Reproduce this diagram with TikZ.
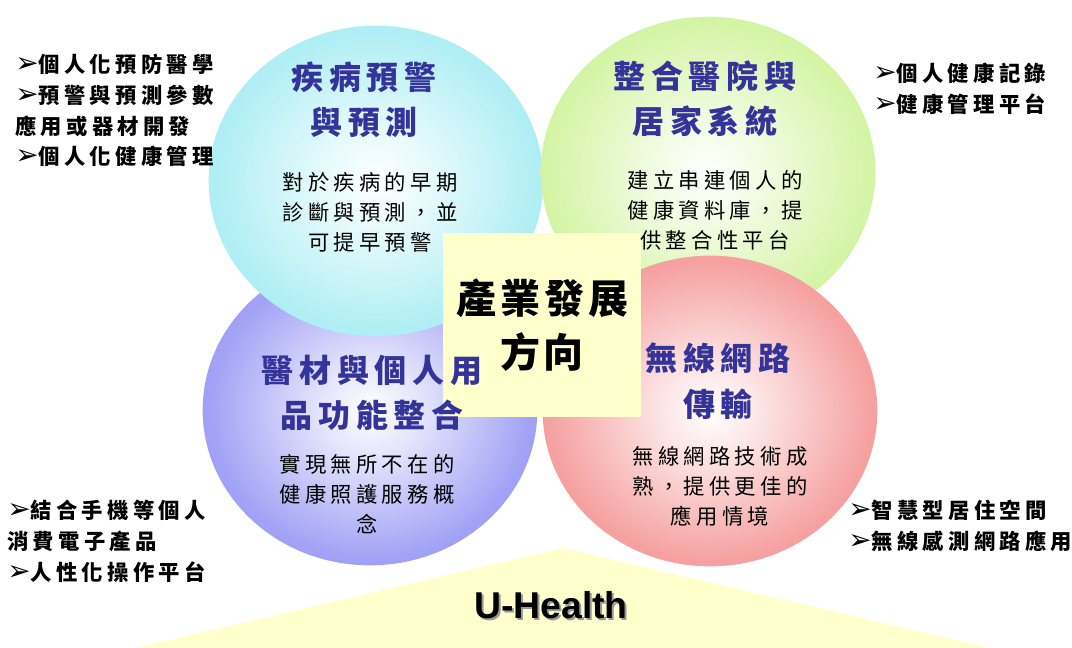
\documentclass[tikz,border=0pt]{standalone}
\usepackage{fontspec}
\setmainfont{Liberation Sans}
\newfontfamily\cjktitle[LetterSpace=18]{Noto Sans CJK TC}
\newfontfamily\cjkbody[LetterSpace=20]{Noto Sans CJK TC}
\newfontfamily\cjkcentre[LetterSpace=10]{Noto Sans CJK TC}
\newfontfamily\cjklist[LetterSpace=20]{Noto Sans CJK TC}
\newfontfamily\dingfont{DejaVu Sans}
\usetikzlibrary{shapes.geometric}

\definecolor{cyanedge}{RGB}{145,232,240}
\definecolor{greenedge}{RGB}{196,240,132}
\definecolor{blueedge}{RGB}{125,125,242}
\definecolor{rededge}{RGB}{242,125,125}
\definecolor{titleblue}{RGB}{51,51,153}
\definecolor{paleyellow}{RGB}{255,255,204}

\colorlet{bubbleedge}{white}
\pgfdeclareradialshading[bubbleedge]{bubbleshade}{\pgfpoint{0bp}{0bp}}{color(0bp)=(white); color(8bp)=(bubbleedge!22!white); color(24bp)=(bubbleedge!72!white); color(40bp)=(bubbleedge!92!white); color(50bp)=(bubbleedge); color(100bp)=(bubbleedge)}

\newcommand{\listarrow}{{\mdseries\dingfont\fontsize{21}{23}\selectfont ➢}}

\begin{document}
\begin{tikzpicture}[x=0.75pt,y=0.75pt,yscale=-1,xscale=1,
  bubble/.style={ellipse, draw=none, inner sep=0pt, minimum width=251pt, minimum height=233pt, shading=bubbleshade},
  bubble color/.code={\colorlet{bubbleedge}{#1}},
  bubbletitle/.style={font=\cjktitle\bfseries\fontsize{24}{34}\selectfont, text=titleblue, align=center, inner sep=0pt},
  bubbletext/.style={font=\cjkbody\fontsize{16}{22.5}\selectfont, align=center, inner sep=0pt},
  listtext/.style={font=\cjklist\bfseries\fontsize{16}{23}\selectfont, align=left, anchor=north west, inner sep=0pt}]
\useasboundingbox (0,0) rectangle (1072,648);

%Shape: Triangle
\fill [paleyellow] (563,548) -- (990,648) -- (135,648) -- cycle ;

%Shape: Ellipse
\draw (370,410) node (medbubble) [bubble, bubble color=blueedge] {};
%Shape: Ellipse
\draw (376,181) node (warnbubble) [bubble, bubble color=cyanedge] {};
%Shape: Ellipse
\draw (708,172) node (homebubble) [bubble, bubble color=greenedge] {};
%Shape: Ellipse
\draw (710,411) node (netbubble) [bubble, bubble color=rededge] {};

%Shape: Square
\draw (542,325) node (centrebox) [rectangle, fill=paleyellow, minimum width=148.5pt, minimum height=138pt, inner sep=0pt, font=\cjkcentre\bfseries\fontsize{30}{41}\selectfont, align=center] {產業發展\\方向};

% Text Node
\draw (364,100) node (warntitle) [bubbletitle] {疾病預警\\與預測};
% Text Node
\draw (370,212) node (warntext) [bubbletext] {對於疾病的早期\\診斷與預測，並\\可提早預警};
% Text Node
\draw (705,99) node (hometitle) [bubbletitle] {整合醫院與\\居家系統};
% Text Node
\draw (715,210) node (hometext) [bubbletext] {建立串連個人的\\健康資料庫，提\\供整合性平台};
% Text Node
\draw (372,393) node (medtitle) [bubbletitle] {醫材與個人用\\品功能整合};
% Text Node
\draw (367,494) node (medtext) [bubbletext] {實現無所不在的\\健康照護服務概\\念};
% Text Node
\draw (718,381) node (nettitle) [bubbletitle] {無線網路\\傳輸};
% Text Node
\draw (720,486) node (nettext) [bubbletext] {無線網路技術成\\熟，提供更佳的\\應用情境};

% Text Node
\draw (15,54) node (warnlist) [listtext] {\listarrow 個人化預防醫學\\\listarrow 預警與預測參數\\應用或器材開發\\\listarrow 個人化健康管理};
% Text Node
\draw (873,63) node (homelist) [listtext] {\listarrow 個人健康記錄\\\listarrow 健康管理平台};
% Text Node
\draw (7,500) node (medlist) [listtext] {\listarrow 結合手機等個人\\消費電子產品\\\listarrow 人性化操作平台};
% Text Node
\draw (848,500) node (netlist) [listtext] {\listarrow 智慧型居住空間\\\listarrow 無線感測網路應用};

% Text Node
\draw (553,607) node (uhshadow) [font=\bfseries\fontsize{28}{30}\selectfont, text=black!40, inner sep=0pt] {U-Health};
% Text Node
\draw (551,605) node (uhealth) [font=\bfseries\fontsize{28}{30}\selectfont, inner sep=0pt] {U-Health};

\end{tikzpicture}
\end{document}
